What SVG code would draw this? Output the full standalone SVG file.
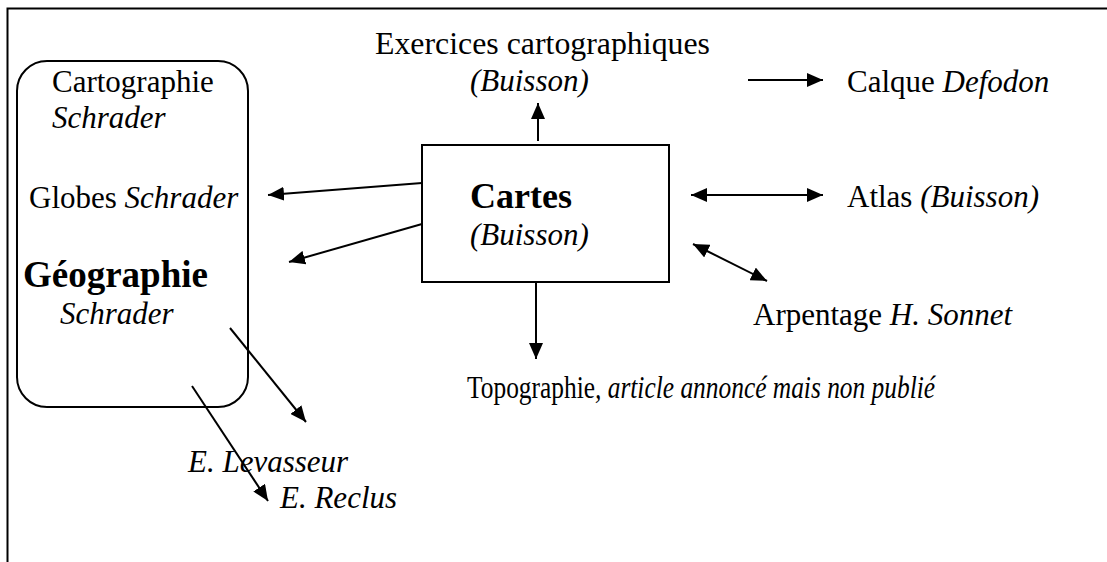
<svg xmlns="http://www.w3.org/2000/svg" width="1107" height="562" viewBox="0 0 1107 562">
<style>
text{font-family:'Liberation Serif','Times New Roman',serif;font-size:31px;fill:#000}
.i{font-style:italic}
.b{font-weight:bold;font-size:37px}
.frame{fill:none;stroke:#000;stroke-width:2}
.box{fill:#fff;stroke:#000;stroke-width:2}
.c line{stroke:#000;stroke-width:2}
</style>
<defs>
<marker id="ah" markerUnits="userSpaceOnUse" markerWidth="16" markerHeight="14" refX="16" refY="7" orient="auto-start-reverse">
<path d="M0,0 L16,7 L0,14 z" fill="#000"/>
</marker>
</defs>
<rect width="1107" height="562" fill="#fff"/>
<path class="frame" d="M7.5,562 V8.5 H1107"/>
<g id="geographie">
<rect class="box" x="17" y="61" width="231" height="346" rx="30" ry="30"/>
<text x="52" y="92">Cartographie</text>
<text class="i" x="52" y="128">Schrader</text>
<text x="29" y="208">Globes <tspan class="i">Schrader</tspan></text>
<text class="b" x="23" y="287">Géographie</text>
<text class="i" x="60" y="324">Schrader</text>
</g>
<g id="cartes">
<rect class="box" x="422" y="145" width="247" height="137"/>
<text class="b" x="470" y="208" style="font-size:36px">Cartes</text>
<text class="i" x="470" y="245">(Buisson)</text>
</g>
<g id="exercices">
<text x="375" y="54" textLength="335" lengthAdjust="spacingAndGlyphs">Exercices cartographiques</text>
<text class="i" x="470" y="91">(Buisson)</text>
</g>
<g id="calque"><text x="847" y="92">Calque <tspan class="i">Defodon</tspan></text></g>
<g id="atlas"><text x="847" y="207">Atlas <tspan class="i">(Buisson)</tspan></text></g>
<g id="arpentage"><text x="753" y="325">Arpentage <tspan class="i">H. Sonnet</tspan></text></g>
<g id="topographie"><text transform="translate(467,398) scale(0.82,1)" x="0" y="0">Topographie<tspan class="i">, article annoncé mais non publié</tspan></text></g>
<g id="levasseur"><text class="i" x="188" y="472">E. Levasseur</text></g>
<g id="reclus"><text class="i" x="280" y="508">E. Reclus</text></g>
<g class="c" id="connectors">
<line x1="748" y1="80" x2="823" y2="80" marker-end="url(#ah)"/>
<line x1="691" y1="195" x2="823" y2="195" marker-start="url(#ah)" marker-end="url(#ah)"/>
<line x1="693" y1="244" x2="767" y2="281" marker-start="url(#ah)" marker-end="url(#ah)"/>
<line x1="538" y1="141" x2="538" y2="103" marker-end="url(#ah)"/>
<line x1="536" y1="282" x2="536" y2="359" marker-end="url(#ah)"/>
<line x1="422" y1="183" x2="268" y2="195" marker-end="url(#ah)"/>
<line x1="422" y1="224" x2="289" y2="262" marker-end="url(#ah)"/>
<line x1="230" y1="328" x2="306" y2="422" marker-end="url(#ah)"/>
<line x1="192" y1="386" x2="268" y2="501" marker-end="url(#ah)"/>
</g>
</svg>
